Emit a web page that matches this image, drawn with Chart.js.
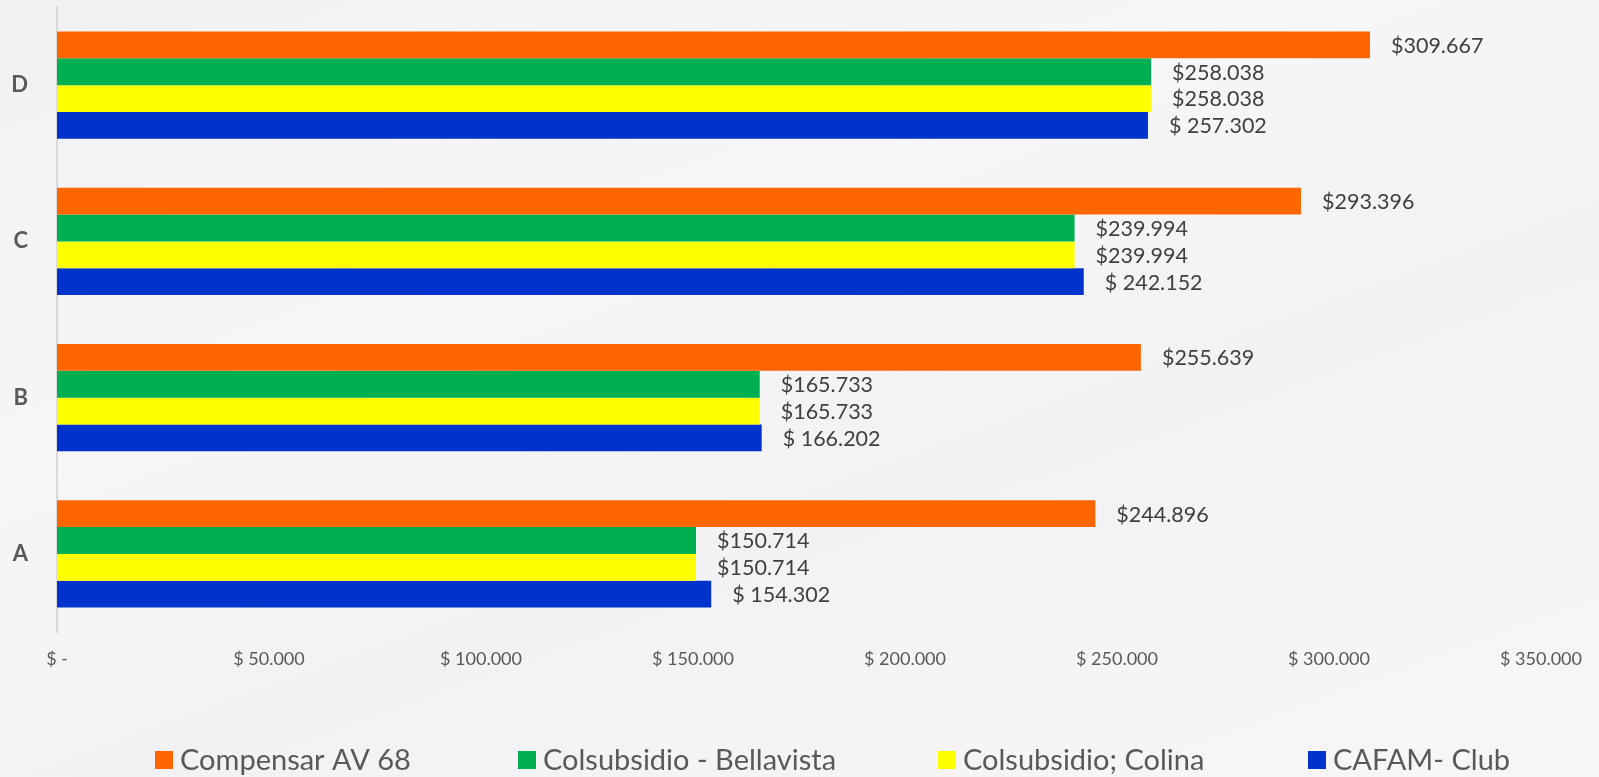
<!DOCTYPE html>
<html>
<head>
<meta charset="utf-8">
<script src="https://cdn.jsdelivr.net/npm/chart.js@4"></script>
<style>
  html, body { margin:0; padding:0; width:1599px; height:777px; overflow:hidden;
    background: linear-gradient(160deg, #f1f1f3 0%, #f6f6f8 35%, #f2f2f4 60%, #f7f7f9 100%); }
  #wrap { position:absolute; left:0; top:0; width:1599px; height:777px; }
</style>
</head>
<body>
<div id="wrap"><canvas id="c" width="1599" height="777"></canvas></div>
<script>
const categories = ['D', 'C', 'B', 'A'];
const compensar   = [309667, 293396, 255639, 244896];
const bellavista  = [258038, 239994, 165733, 150714];
const colina      = [258038, 239994, 165733, 150714];
const cafam       = [257302, 242152, 166202, 154302];
const seriesNames = ['Compensar AV 68', 'Colsubsidio - Bellavista', 'Colsubsidio; Colina', 'CAFAM- Club'];
const labelPrefixes = ['$', '$', '$', '$ '];
const xTicks = [0, 50000, 100000, 150000, 200000, 250000, 300000, 350000];

const seriesColors = ['#FF6600', '#00B050', '#FFFF00', '#0033CC'];
const seriesData = [compensar, bellavista, colina, cafam];

function fmt(v) {
  return String(Math.round(v)).replace(/\B(?=(\d{3})+(?!\d))/g, '.');
}

const dataLabelPlugin = {
  id: 'dataLabels',
  afterDatasetsDraw(chart) {
    const ctx = chart.ctx;
    ctx.save();
    ctx.font = '21.5px Lato';
    ctx.fillStyle = '#404040';
    ctx.textAlign = 'left';
    ctx.textBaseline = 'middle';
    chart.data.datasets.forEach((ds, di) => {
      const meta = chart.getDatasetMeta(di);
      meta.data.forEach((bar, i) => {
        ctx.fillText(labelPrefixes[di] + fmt(ds.data[i]), bar.x + 21, bar.y + 1);
      });
    });
    ctx.restore();
  }
};

// legend layout (Excel-style spacing)
const legendBoxX = [155, 518, 938, 1308];
const legendCenterY = 760;
const legendPlugin = {
  id: 'customLegend',
  afterDraw(chart) {
    const ctx = chart.ctx;
    ctx.save();
    ctx.font = '29px Lato';
    ctx.textBaseline = 'middle';
    ctx.textAlign = 'left';
    chart.data.datasets.forEach((ds, i) => {
      const x = legendBoxX[i];
      ctx.fillStyle = ds.backgroundColor;
      ctx.fillRect(x, legendCenterY - 9, 18, 18);
      ctx.fillStyle = '#595959';
      ctx.fillText(ds.label, x + 25, legendCenterY + 1);
    });
    ctx.restore();
  }
};

new Chart(document.getElementById('c'), {
  type: 'bar',
  data: {
    labels: categories,
    datasets: seriesData.map((d, i) => ({
      label: seriesNames[i],
      data: d,
      backgroundColor: seriesColors[i],
      borderWidth: 0,
      categoryPercentage: 0.686,
      barPercentage: 1.0
    }))
  },
  options: {
    indexAxis: 'y',
    responsive: false,
    animation: false,
    layout: { padding: { left: 0, right: 58, top: 7, bottom: 0 } },
    scales: {
      x: {
        min: 0, max: 350000,
        afterBuildTicks(scale) { scale.ticks = xTicks.map(v => ({ value: v })); },
        grid: { display: false, drawTicks: false },
        border: { display: false },
        ticks: {
          padding: 16,
          color: '#595959',
          font: { family: 'Lato', size: 18 },
          callback: (v) => v === 0 ? '$ -' : '$ ' + fmt(v)
        },
        afterFit(scale) { scale.height = 145; }
      },
      y: {
        grid: { display: false, drawTicks: false },
        border: { display: true, color: '#d9d9d9', width: 2 },
        ticks: {
          padding: 29,
          color: '#595959',
          font: { family: 'Lato', size: 22, weight: 'bold' }
        },
        afterFit(scale) { scale.width = 57; scale.paddingTop = 0; scale.paddingBottom = 0; }
      }
    },
    plugins: {
      legend: { display: false },
      tooltip: { enabled: false }
    }
  },
  plugins: [dataLabelPlugin, legendPlugin]
});
</script>
</body>
</html>
